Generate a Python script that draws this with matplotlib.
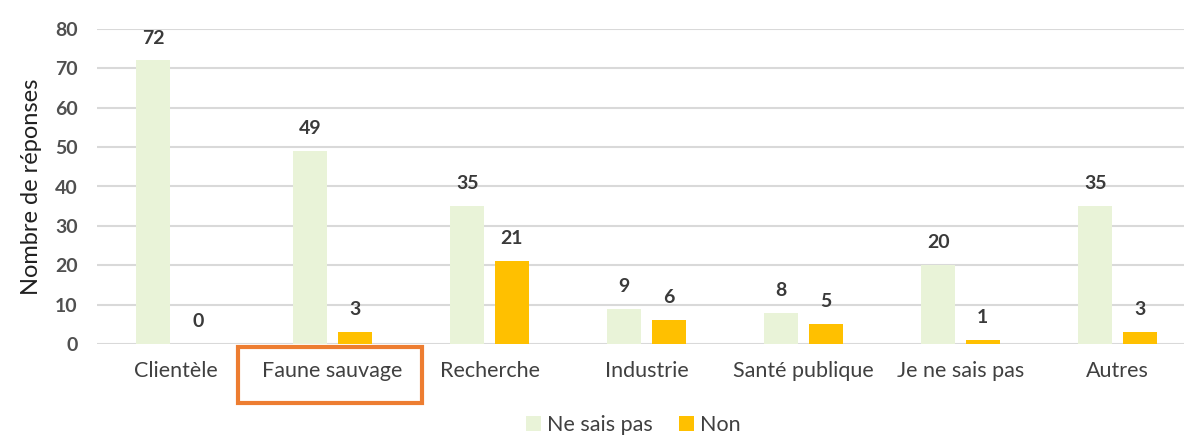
import matplotlib
matplotlib.use("Agg")
import numpy as np
import matplotlib.pyplot as plt
from matplotlib.patches import Patch, Rectangle
import matplotlib.transforms as mtransforms

# Data
categories = ["Clientèle", "Faune sauvage", "Recherche", "Industrie",
              "Santé publique", "Je ne sais pas", "Autres"]
ne_sais_pas = [72, 49, 35, 9, 8, 20, 35]
non = [0, 3, 21, 6, 5, 1, 3]
series_names = ["Ne sais pas", "Non"]
yticks = [0, 10, 20, 30, 40, 50, 60, 70, 80]

green = "#E9F3D8"
orange = "#FFC000"
text_col = "#404040"

plt.rcParams['font.family'] = ['Lato', 'DejaVu Sans']

fig = plt.figure(figsize=(11.84, 4.36), dpi=100)
# axes: left edge at 97px, bottom at 344px, top at 29px, runs off right edge
ax = fig.add_axes([97 / 1184, (436 - 344) / 436, (1184 - 97) / 1184, (344 - 29) / 436])

x = np.arange(len(categories))
w = 0.217
off = 0.142
b1 = ax.bar(x - off, ne_sais_pas, w, color=green, zorder=2)
b2 = ax.bar(x + off, non, w, color=orange, zorder=2)

for bars, vals in ((b1, ne_sais_pas), (b2, non)):
    for rect, v in zip(bars, vals):
        ax.annotate(str(v), (rect.get_x() + rect.get_width() / 2, rect.get_height()),
                    xytext=(0, 10), textcoords="offset points",
                    ha="center", va="bottom", fontsize=14, fontweight="bold",
                    color="#3a3a3a")

ax.set_ylim(0, 80)
ax.set_xlim(-0.5, (1184 - 97) / 157 - 0.5)
ax.set_yticks(yticks)
ax.set_xticks(x)
ax.set_xticklabels(categories)
ax.tick_params(axis="x", length=0, pad=12, labelsize=15.5, labelcolor=text_col)
ax.tick_params(axis="y", length=0, pad=14, labelsize=14, labelcolor="#505050")
for lab in ax.get_yticklabels():
    lab.set_fontweight("bold")
ax.yaxis.grid(True, color="#D9D9D9", linewidth=1.5, zorder=0)
ax.set_axisbelow(True)
for s in ax.spines.values():
    s.set_visible(False)

ax.set_ylabel("Nombre de réponses", fontsize=17, color="#202020", labelpad=9)

# orange box around "Faune sauvage"
trans = mtransforms.blended_transform_factory(ax.transData, ax.transAxes)
box = Rectangle((0.40, -0.187), 1.17, 0.177, transform=trans, fill=False,
                edgecolor="#ED7D31", linewidth=3, clip_on=False)
ax.add_patch(box)

handles = [Patch(facecolor=green, edgecolor="none"), Patch(facecolor=orange, edgecolor="none")]
fig.legend(handles, series_names, loc="center", bbox_to_anchor=(0.535, 0.025), ncol=2,
           frameon=False, fontsize=15.5, handlelength=0.7, handleheight=0.7,
           handletextpad=0.3, columnspacing=1.2, labelcolor=text_col)

fig.savefig("out.png", dpi=100)
